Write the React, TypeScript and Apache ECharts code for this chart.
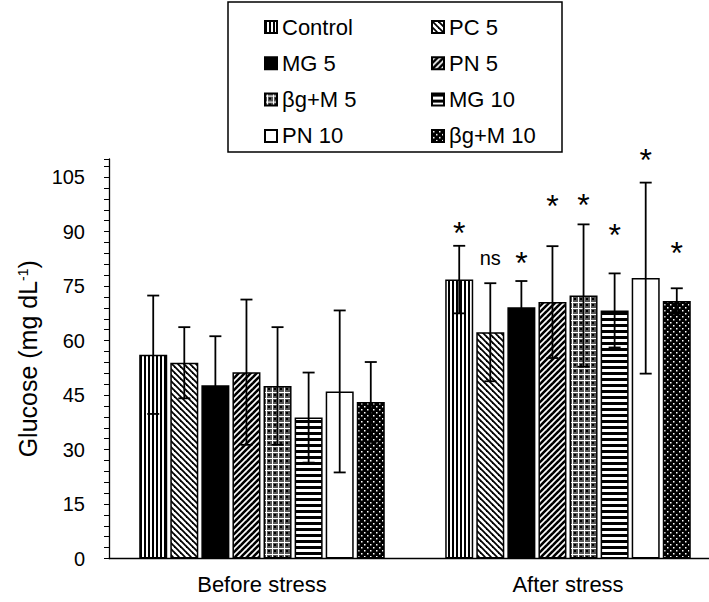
import React, { useEffect, useRef } from "react";
import * as echarts from "echarts";

const categories = ["Before stress", "After stress"];
const groups = ["Control", "PC 5", "MG 5", "PN 5", "βg+M 5", "MG 10", "PN 10", "βg+M 10"];
const meansBefore = [56.1, 53.9, 47.7, 51.3, 47.5, 38.8, 46.0, 43.1];
const sdBefore = [16.3, 9.8, 13.5, 20.0, 16.2, 12.4, 22.3, 11.0];
const meansAfter = [76.8, 62.3, 69.2, 70.6, 72.4, 68.3, 77.2, 70.9];
const sdAfter = [9.3, 13.5, 7.2, 15.4, 19.6, 10.2, 26.3, 3.5];
const sigLabels = ["*", "ns", "*", "*", "*", "*", "*", "*"];
const sigLabelY = [90.4, 82.7, 82.2, 97.9, 98.2, 89.9, 110.5, 84.9];
const yTicks = [0, 15, 30, 45, 60, 75, 90, 105];

const FONT = "'Liberation Sans', Arial, sans-serif";
const BAR_W = 28;
const GAP_PCT = 11;
const PITCH = BAR_W * (1 + GAP_PCT / 100);
const CHART_W = 730;

function makePattern(kind: string): any {
  if (kind === "black") return "#000";
  if (kind === "white") return "#fff";
  let w = 6, h = 6;
  if (kind === "vert") { w = 4; h = 4; }
  if (kind === "horiz") { w = 4; h = 6; }
  if (kind === "grid") { w = 6; h = 6; }
  if (kind === "dots") { w = 6; h = 6; }
  const c = document.createElement("canvas");
  c.width = w; c.height = h;
  const ctx = c.getContext("2d")!;
  ctx.fillStyle = "#fff";
  ctx.fillRect(0, 0, w, h);
  ctx.fillStyle = "#000";
  ctx.strokeStyle = "#000";
  if (kind === "vert") {
    ctx.fillRect(0, 0, 2, h);
  } else if (kind === "horiz") {
    ctx.fillRect(0, 0, w, 3);
  } else if (kind === "back" || kind === "fwd") {
    ctx.lineWidth = kind === "back" ? 1.8 : 2.6;
    for (let k = -1; k <= 1; k++) {
      ctx.beginPath();
      if (kind === "back") {
        ctx.moveTo(k * w - 1, -1);
        ctx.lineTo(k * w + w + 1, h + 1);
      } else {
        ctx.moveTo(k * w - 1, h + 1);
        ctx.lineTo(k * w + w + 1, -1);
      }
      ctx.stroke();
    }
  } else if (kind === "grid") {
    ctx.fillStyle = "#555";
    ctx.fillRect(0, 0, w, h);
    ctx.fillStyle = "#fff";
    ctx.fillRect(0, 2, w, 1);
    ctx.fillRect(2, 0, 1, h);
    ctx.fillStyle = "#000";
    ctx.fillRect(4, 4, 2, 2);
  } else if (kind === "dots") {
    ctx.fillRect(0, 0, w, h);
    ctx.fillStyle = "#fff";
    ctx.fillRect(1, 1, 1.5, 1.5);
    ctx.fillRect(4, 4, 1.5, 1.5);
  }
  return { image: c, repeat: "repeat", imageWidth: w, imageHeight: h };
}

const patternKinds = ["vert", "back", "black", "fwd", "grid", "horiz", "white", "dots"];

export default function App() {
  const ref = useRef<HTMLDivElement>(null);
  useEffect(() => {
    if (!ref.current) return;
    const chart = echarts.init(ref.current, null, { renderer: "svg" });

    const barSeries = groups.map((g, i) => ({
      name: g,
      type: "bar",
      data: [meansBefore[i], meansAfter[i]],
      barWidth: BAR_W,
      barGap: GAP_PCT + "%",
      itemStyle: {
        color: makePattern(patternKinds[i]),
        borderColor: "#000",
        borderWidth: 1.5,
      },
      emphasis: { disabled: true },
      z: 2,
    }));

    const errData: number[][] = [];
    const errLabels: string[] = [];
    const errLabelY: (number | null)[] = [];
    groups.forEach((g, i) => {
      errData.push([0, i, meansBefore[i], sdBefore[i]]);
      errLabels.push("");
      errLabelY.push(null);
      errData.push([1, i, meansAfter[i], sdAfter[i]]);
      errLabels.push(sigLabels[i]);
      errLabelY.push(sigLabelY[i]);
    });

    const errSeries = {
      type: "custom",
      name: "err",
      data: errData,
      z: 5,
      clip: false,
      silent: true,
      renderItem: (params: any, api: any) => {
        const cat = api.value(0);
        const si = api.value(1);
        const mean = api.value(2);
        const sd = api.value(3);
        const c = api.coord([cat, mean]);
        const x = c[0] + (si - 3.5) * PITCH;
        const top = api.coord([cat, mean + sd])[1];
        const bot = api.coord([cat, mean - sd])[1];
        const st = { stroke: "#000", lineWidth: 1.8 };
        const children: any[] = [
          { type: "line", shape: { x1: x, y1: top, x2: x, y2: bot }, style: st },
          { type: "line", shape: { x1: x - 6, y1: top, x2: x + 6, y2: top }, style: st },
          { type: "line", shape: { x1: x - 6, y1: bot, x2: x + 6, y2: bot }, style: st },
        ];
        const lab = errLabels[params.dataIndex];
        const ly = errLabelY[params.dataIndex];
        if (lab && ly != null) {
          const yy = api.coord([cat, ly])[1];
          const isStar = lab === "*";
          children.push({
            type: "text",
            x: x,
            y: yy + (isStar ? 3 : 0),
            style: {
              text: lab,
              fill: "#000",
              fontSize: isStar ? 32 : 20,
              fontFamily: FONT,
              textAlign: "center",
              textVerticalAlign: "middle",
            },
          });
        }
        return { type: "group", children };
      },
    };

    const legendCommon = {
      orient: "vertical",
      top: 11,
      itemWidth: 12,
      itemHeight: 12,
      itemGap: 14.3,
      icon: "rect",
      selectedMode: false,
      textStyle: { fontSize: 22, lineHeight: 22, fontFamily: FONT, color: "#000" },
    };

    chart.setOption({
      animation: false,
      backgroundColor: "#fff",
      grid: { left: 109, right: CHART_W - 721, top: 159, bottom: 43.5 },
      legend: [
        { ...legendCommon, left: 259, data: [groups[0], groups[2], groups[4], groups[6]] },
        { ...legendCommon, left: 426, data: [groups[1], groups[3], groups[5], groups[7]] },
      ],
      graphic: [
        {
          type: "rect",
          shape: { x: 228, y: 2, width: 334, height: 150 },
          style: { fill: "none", stroke: "#000", lineWidth: 1.5 },
          z: 10,
        },
      ],
      xAxis: {
        type: "category",
        data: categories,
        axisLine: { lineStyle: { color: "#000", width: 1.3 } },
        axisTick: { show: false },
        axisLabel: { fontSize: 22, fontFamily: FONT, color: "#000", margin: 15 },
      },
      yAxis: {
        type: "value",
        min: 0,
        max: 110,
        interval: 3,
        name: "Glucose (mg dL{sup|-1})",
        nameLocation: "middle",
        nameGap: 67,
        nameTextStyle: {
          fontSize: 25,
          fontFamily: FONT,
          color: "#000",
          rich: { sup: { fontSize: 14, fontFamily: FONT, color: "#000", verticalAlign: "top", padding: [0, 0, 8, 0] } },
        },
        axisLine: { show: true, lineStyle: { color: "#000", width: 1.3 } },
        axisTick: { show: true, length: 5, lineStyle: { color: "#000", width: 1 } },
        splitLine: { show: false },
        axisLabel: {
          fontSize: 20,
          fontFamily: FONT,
          color: "#000",
          margin: 24,
          formatter: (v: number) => (yTicks.indexOf(v) >= 0 ? String(v) : ""),
        },
      },
      series: [...barSeries, errSeries],
    });
    return () => chart.dispose();
  }, []);
  return (
    <div style={{ position: "absolute", left: 0, top: 0, width: 709, height: 602, overflow: "hidden" }}>
      <div ref={ref} style={{ width: CHART_W, height: 602 }} />
    </div>
  );
}
